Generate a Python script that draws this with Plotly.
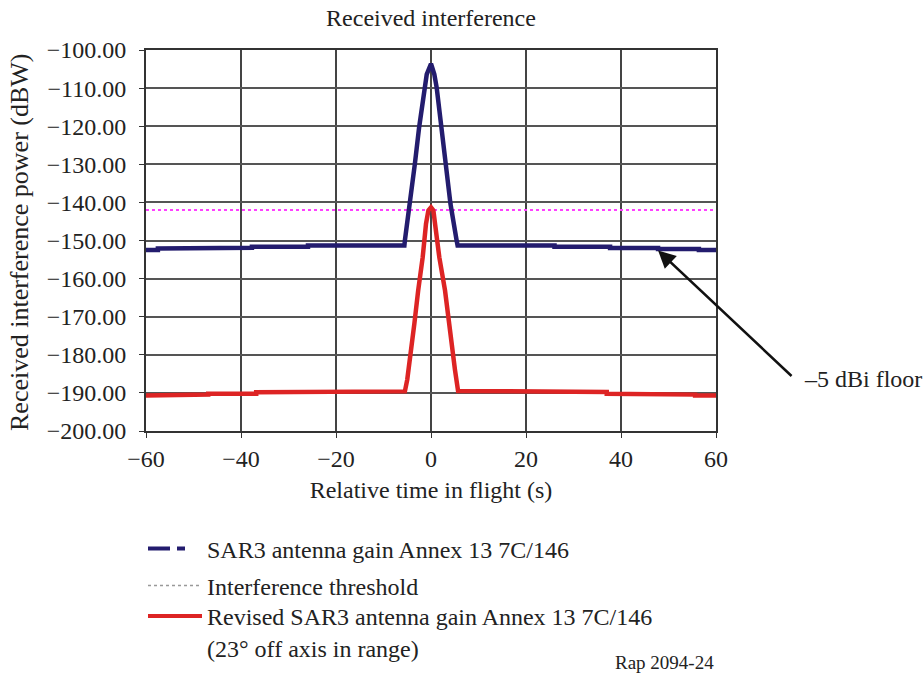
import plotly.graph_objects as go

# ---- data ----
blue_x = [-60, -57.5, -57.5, -47.6, -47.6, -37.7, -37.7, -25.9, -25.9, -5.6,
          -5.5, -4.4, -3.4, -2.5, -1.3, -0.9, 0, 0.7, 1.2, 2.2,
          3.1, 4.1, 5.4, 5.6, 26, 26, 37.7, 37.7, 47.8, 47.8,
          56.4, 56.4, 60]
blue_y = [-152.5, -152.5, -152.1, -152.1, -151.9, -151.9, -151.65, -151.65, -151.3, -151.3,
          -150, -140.4, -129.9, -120.3, -109.9, -106.4, -103.6, -106.4, -109.9, -120.3,
          -129.9, -140.4, -150, -151.3, -151.3, -151.65, -151.65, -152.0, -152.0, -152.25,
          -152.25, -152.5, -152.5]

red_x = [-60, -55.8, -55.8, -46.9, -46.9, -36.8, -36.8, -23.7, -23.7, -5.5,
         -5.0, -4.3, -3.5, -2.7, -1.75, -1.05, -0.55, 0, 0.5, 0.85,
         1.75, 2.95, 3.8, 4.5, 5.05, 5.7, 24, 24, 37, 37,
         47, 47, 55.6, 55.6, 60]
red_y = [-190.7, -190.7, -190.45, -190.45, -190.2, -190.2, -189.85, -189.85, -189.6, -189.6,
         -186.5, -180.5, -171.8, -163.1, -154.4, -145.6, -142.1, -141.3, -142.1, -145.6,
         -154.4, -163.1, -171.8, -180.5, -184, -189.5, -189.5, -189.75, -189.75, -190.2,
         -190.2, -190.45, -190.45, -190.7, -190.7]

thr_x = [-60, 60]
thr_y = [-142, -142]

arrow_tip = (47.8, -152.6)

names = ["SAR3 antenna gain Annex 13 7C/146",
         "Interference threshold",
         "Revised SAR3 antenna gain Annex 13 7C/146<br>(23° off axis in range)"]

BLUE = "#231c6e"
RED = "#dd2424"
MAG = "#ff40ff"
FONT = "Liberation Serif"
FS = 24

fig = go.Figure()
fig.add_trace(go.Scatter(x=thr_x, y=thr_y, mode="lines", showlegend=False,
                         line=dict(color=MAG, width=2, dash="dot")))
fig.add_trace(go.Scatter(x=blue_x, y=blue_y, mode="lines", showlegend=False,
                         line=dict(color=BLUE, width=4.5)))
fig.add_trace(go.Scatter(x=red_x, y=red_y, mode="lines", showlegend=False,
                         line=dict(color=RED, width=4.5)))

# legend-only entries
fig.add_trace(go.Scatter(x=[None], y=[None], mode="lines", name=names[0], legend="legend",
                         line=dict(color=BLUE, width=4, dash="22px,7px,8px")))
fig.add_trace(go.Scatter(x=[None], y=[None], mode="lines", name=names[1], legend="legend2",
                         line=dict(color="#999999", width=1.5, dash="dot")))
fig.add_trace(go.Scatter(x=[None], y=[None], mode="lines", name=names[2], legend="legend3",
                         line=dict(color=RED, width=4)))

H = 673
W = 923
PL, PR, PT, PB = 146, 716, 50, 431


def px_x(p):
    return (p - PL) / (PR - PL)


def px_y(p):
    return (PB - p) / (PB - PT)


leg_common = dict(xref="container", yref="container", xanchor="left", yanchor="middle",
                  font=dict(family=FONT, size=FS, color="#222"), itemwidth=54,
                  bgcolor="rgba(0,0,0,0)", borderwidth=0)

fig.update_layout(
    width=W, height=H,
    margin=dict(l=PL, r=W - PR, t=PT, b=H - PB, autoexpand=False),
    paper_bgcolor="white", plot_bgcolor="white",
    font=dict(family=FONT, size=FS, color="#222"),
    title=dict(text="Received interference", x=431 / W, xanchor="center", xref="container",
               y=1 - 18 / H, yanchor="middle", yref="container",
               font=dict(family=FONT, size=FS, color="#222")),
    xaxis=dict(range=[-60, 60], tickvals=[-60, -40, -20, 0, 20, 40, 60],
               showgrid=True, gridcolor="#444", gridwidth=1.5,
               showline=True, linecolor="#333", linewidth=2, mirror=True,
               ticks="outside", ticklen=5, tickcolor="#333", zeroline=False,
               automargin=False, tickangle=0,
               title=dict(text="Relative time in flight (s)", standoff=10,
                          font=dict(family=FONT, size=FS, color="#222"))),
    yaxis=dict(range=[-200, -100], dtick=10, tickformat=".2f",
               showgrid=True, gridcolor="#555", gridwidth=1.5,
               showline=True, linecolor="#333", linewidth=2, mirror=True,
               ticks="outside", ticklen=5, tickcolor="#333", zeroline=False,
               ticklabelstandoff=8, automargin=False),
    legend=dict(x=143 / W, y=1 - 549 / H, **leg_common),
    legend2=dict(x=143 / W, y=1 - 586 / H, **leg_common),
    legend3=dict(x=143 / W, y=1 - 632 / H, valign="top", **leg_common),
)

fig.add_annotation(x=px_x(19), y=px_y(242), xref="paper", yref="paper",
                   text="Received interference power (dBW)", textangle=-90,
                   showarrow=False, xanchor="center", yanchor="middle",
                   font=dict(family=FONT, size=26, color="#222"))
fig.add_annotation(x=arrow_tip[0], y=arrow_tip[1], xref="x", yref="y", text="",
                   showarrow=True, ax=135, ay=127, arrowhead=2, arrowsize=1.4,
                   arrowwidth=2.5, arrowcolor="#111", standoff=0)
fig.add_annotation(x=px_x(802), y=px_y(379), xref="paper", yref="paper",
                   text="–5 dBi floor", showarrow=False, xanchor="left", yanchor="middle",
                   font=dict(family=FONT, size=FS, color="#222"))
fig.add_annotation(x=1, y=px_y(662), xref="paper", yref="paper",
                   text="Rap 2094-24", showarrow=False, xanchor="right", yanchor="middle",
                   font=dict(family=FONT, size=19, color="#222"))

fig.write_html("out.html")
